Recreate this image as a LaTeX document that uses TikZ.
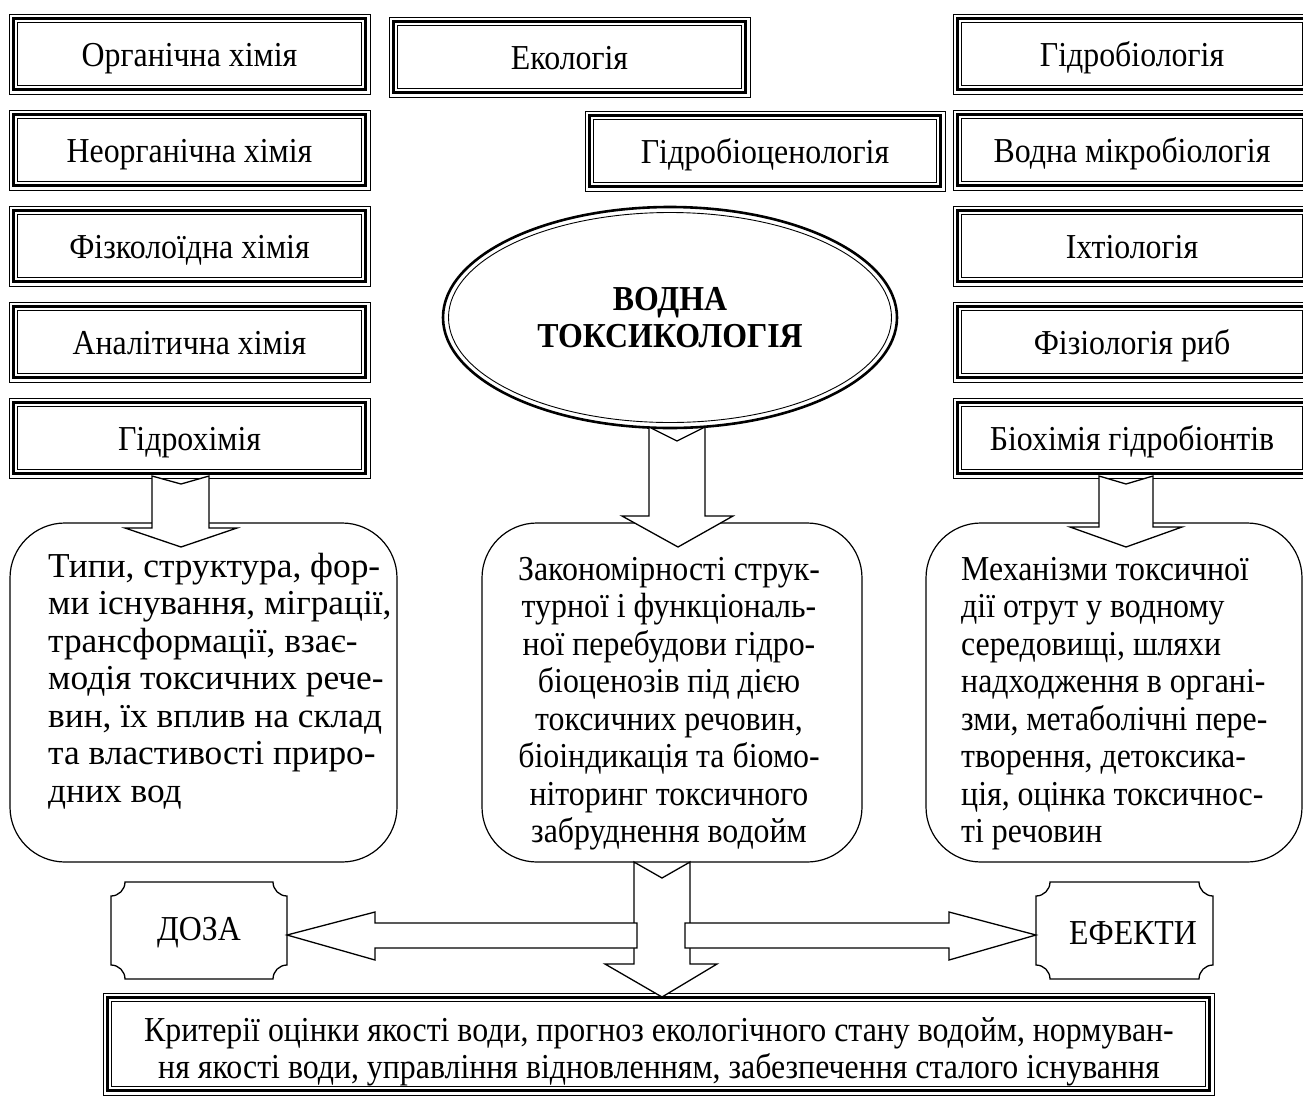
\documentclass[tikz,border=0pt]{standalone}
\usepackage{fontspec}
\setmainfont{Liberation Serif}[FakeStretch=0.91]
\newfontfamily\widefs{Liberation Serif}[FakeStretch=1.01]
\usetikzlibrary{shapes.geometric,calc}
\newcommand\mainfs{\fontsize{35}{37.5}\selectfont}
\tikzset{
  tri/.style={draw, line width=0.8pt, inner sep=0pt, outer sep=0pt, fill=white, font=\mainfs, text height=24pt, text depth=0pt},
  rbox/.style={draw, line width=1.2pt, rounded corners=55pt, inner sep=0pt, outer sep=0pt},
  plq/.style={inner sep=0pt, outer sep=0pt},
  blk/.style={draw, fill=white, line width=1.3pt, line join=miter},
  txt/.style={inner sep=0pt, font=\mainfs},
}
\newcommand\triframe[1]{%
  \draw[line width=2.8pt] ([xshift=4.5pt,yshift=-4.5pt]#1.north west) rectangle ([xshift=-4.5pt,yshift=4.5pt]#1.south east);
  \draw[line width=0.9pt] ([xshift=8.5pt,yshift=-8.5pt]#1.north west) rectangle ([xshift=-8.5pt,yshift=8.5pt]#1.south east);}
\newcommand\plaque[1]{%
  \draw[line width=1.3pt] ($(#1.north west)+(0,14)$) .. controls +(7.7,0) and +(0,7.7) .. ($(#1.north west)+(14,0)$)
  -- ($(#1.north east)+(-14,0)$) .. controls +(0,7.7) and +(-7.7,0) .. ($(#1.north east)+(0,14)$)
  -- ($(#1.south east)+(0,-14)$) .. controls +(-7.7,0) and +(0,-7.7) .. ($(#1.south east)+(-14,0)$)
  -- ($(#1.south west)+(14,0)$) .. controls +(0,-7.7) and +(7.7,0) .. ($(#1.south west)+(0,-14)$) -- cycle;}
\begin{document}
\begin{tikzpicture}[x=1pt,y=-1pt]
\fill[white] (0,0) rectangle (1303,1098);
\useasboundingbox (0,0) rectangle (1303,1098);

% left column
\node[tri, minimum width=361pt, minimum height=80pt] (l1) at (189.5,54) {Органічна хімія};
\triframe{l1}
\node[tri, minimum width=361pt, minimum height=80pt] (l2) at (189.5,150) {Неорганічна хімія};
\triframe{l2}
\node[tri, minimum width=361pt, minimum height=80pt] (l3) at (189.5,246) {Фізколоїдна хімія};
\triframe{l3}
\node[tri, minimum width=361pt, minimum height=80pt] (l4) at (189.5,342) {Аналітична хімія};
\triframe{l4}
\node[tri, minimum width=361pt, minimum height=80pt] (l5) at (189.5,438) {Гідрохімія};
\triframe{l5}

% middle top
\node[tri, minimum width=361pt, minimum height=80pt] (eco) at (569.5,57) {Екологія};
\triframe{eco}
\node[tri, minimum width=360pt, minimum height=80pt] (hbc) at (765,151) {Гідробіоценологія};
\triframe{hbc}

% right column
\node[tri, minimum width=358pt, minimum height=80pt] (r1) at (1132,54) {Гідробіологія};
\triframe{r1}
\node[tri, minimum width=358pt, minimum height=80pt] (r2) at (1132,150) {Водна мікробіологія};
\triframe{r2}
\node[tri, minimum width=358pt, minimum height=80pt] (r3) at (1132,246) {Іхтіологія};
\triframe{r3}
\node[tri, minimum width=358pt, minimum height=80pt] (r4) at (1132,342) {Фізіологія риб};
\triframe{r4}
\node[tri, minimum width=358pt, minimum height=80pt] (r5) at (1132,438) {Біохімія гідробіонтів};
\triframe{r5}

% ellipse
\node[draw, ellipse, line width=2.6pt, minimum width=454pt, minimum height=221pt, inner sep=0pt, outer sep=0pt,
      fill=white, align=center, font=\mainfs\bfseries] (vt) at (670,317.5) {ВОДНА\\ТОКСИКОЛОГІЯ};
\draw[line width=0.9pt] (vt.center) ellipse [x radius=221.5, y radius=105];

% rounded boxes
\node[rbox, minimum width=387pt, minimum height=339pt] (lb) at (203.5,692.5) {};
\node[rbox, minimum width=380pt, minimum height=339pt] (mb) at (672,692.5) {};
\node[rbox, minimum width=376pt, minimum height=339pt] (rb) at (1114,692.5) {};

\node[txt, anchor=north west, align=left, font=\mainfs\widefs] (lbt) at (48,553) {Типи, структура, фор-\\ми існування, міграції,\\трансформації, взає-\\модія токсичних рече-\\вин, їх вплив на склад\\та властивості приро-\\дних вод};
\node[txt, anchor=north, align=center] (mbt) at (669,557) {Закономірності струк-\\турної і функціональ-\\ної перебудови гідро-\\біоценозів під дією\\токсичних речовин,\\біоіндикація та біомо-\\ніторинг токсичного\\забруднення водойм};
\node[txt, anchor=north west, align=left] (rbt) at (961,557) {Механізми токсичної\\дії отрут у водному\\середовищі, шляхи\\надходження в органі-\\зми, метаболічні пере-\\творення, детоксика-\\ція, оцінка токсичнос-\\ті речовин};

% down arrows
\draw[blk] (152,476) -- (181,484) -- (209,476) -- (209,528) -- (237,528) -- (181,547) -- (125,528) -- (152,528) -- cycle;
\draw[blk] (649,427) -- (677,441) -- (705,427) -- (705,516) -- (733,516) -- (678,547) -- (622,516) -- (649,516) -- cycle;
\draw[blk] (1099,476) -- (1126,484) -- (1153,476) -- (1153,527) -- (1182,527) -- (1126,547) -- (1070,527) -- (1099,527) -- cycle;

% bottom box
\node[tri, minimum width=1111pt, minimum height=102pt] (crit) at (658.5,1044) {};
\triframe{crit}
\node[txt, align=center] (critt) at (659,1052) {Критерії оцінки якості води, прогноз екологічного стану водойм, нормуван-\\ня якості води, управління відновленням, забезпечення сталого існування};

% plaques
\node[plq, minimum width=176pt, minimum height=97pt] (doza) at (199,930.5) {};
\plaque{doza}
\node[txt] (dozat) at (199,933) {ДОЗА};
\node[plq, minimum width=177pt, minimum height=97pt] (ef) at (1124.5,930.5) {};
\plaque{ef}
\node[txt] (eft) at (1133,933) {ЕФЕКТИ};

% central arrows
\draw[blk] (634,862) -- (662,878) -- (690,862) -- (690,964) -- (717,964) -- (662,997) -- (605,964) -- (634,964) -- cycle;
\draw[blk] (637,923) -- (375,923) -- (375,912) -- (doza.east |- 0,935) -- (375,960) -- (375,948) -- (637,948) -- cycle;
\draw[blk] (685,923) -- (949,923) -- (949,912) -- (ef.west |- 0,935) -- (949,960) -- (949,948) -- (685,948) -- cycle;
\end{tikzpicture}
\end{document}
